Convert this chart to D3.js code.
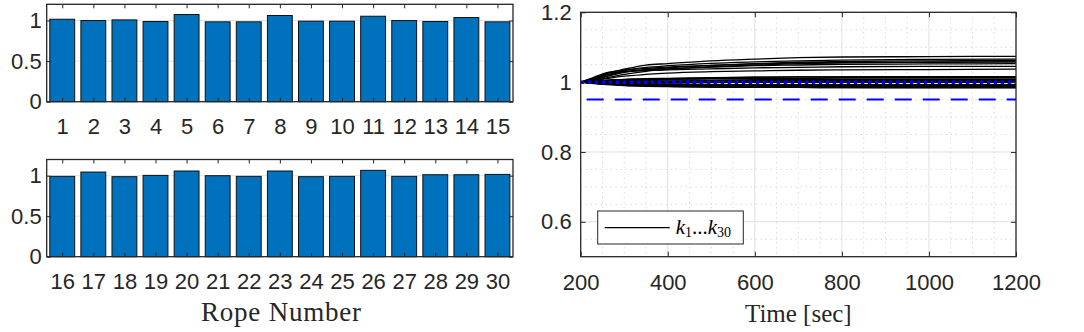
<!DOCTYPE html>
<html>
<head>
<meta charset="utf-8">
<script src="https://cdn.jsdelivr.net/npm/d3@7"></script>
<style>
  body { margin: 0; background: #fff; }
</style>
</head>
<body>
<svg id="chart"></svg>
<script>
// bar values (estimated ratio per rope)
const ropesTop = [1, 2, 3, 4, 5, 6, 7, 8, 9, 10, 11, 12, 13, 14, 15]
const ratiosTop = [1.016, 1.000, 1.008, 0.988, 1.074, 0.984, 0.984, 1.062, 0.992, 0.992, 1.053, 1.000, 0.988, 1.037, 0.984]
const ropesBottom = [16, 17, 18, 19, 20, 21, 22, 23, 24, 25, 26, 27, 28, 29, 30]
const ratiosBottom = [0.992, 1.045, 0.988, 1.004, 1.058, 1.000, 0.992, 1.058, 0.988, 0.992, 1.066, 0.992, 1.012, 1.012, 1.016]
const barYTicks = [0, 0.5, 1]

// time histories k1..k30
const times = [200, 230, 260, 300, 350, 400, 500, 600, 700, 800, 1000, 1200]
const kTraces = [
  [1, 1.002, 1.005, 1.008, 1.010, 1.011, 1.013, 1.014, 1.015, 1.015, 1.016, 1.016],
  [1, 1.001, 1.002, 1.001, 1.000, 1.000, 0.999, 1.000, 1.000, 1.000, 1.000, 1.000],
  [1, 1.001, 1.003, 1.004, 1.005, 1.006, 1.006, 1.007, 1.007, 1.008, 1.008, 1.008],
  [1, 0.998, 0.995, 0.993, 0.992, 0.991, 0.990, 0.989, 0.989, 0.988, 0.988, 0.988],
  [1, 1.010, 1.025, 1.037, 1.049, 1.053, 1.061, 1.066, 1.070, 1.072, 1.073, 1.074],
  [1, 0.997, 0.994, 0.991, 0.989, 0.988, 0.987, 0.986, 0.985, 0.985, 0.984, 0.984],
  [1, 0.998, 0.995, 0.992, 0.990, 0.988, 0.986, 0.985, 0.985, 0.984, 0.984, 0.984],
  [1, 1.006, 1.016, 1.028, 1.036, 1.041, 1.048, 1.053, 1.057, 1.059, 1.061, 1.062],
  [1, 0.999, 0.997, 0.996, 0.995, 0.994, 0.993, 0.993, 0.992, 0.992, 0.992, 0.992],
  [1, 0.998, 0.996, 0.995, 0.994, 0.994, 0.993, 0.993, 0.993, 0.992, 0.992, 0.992],
  [1, 1.008, 1.018, 1.030, 1.035, 1.038, 1.043, 1.047, 1.049, 1.051, 1.052, 1.053],
  [1, 0.999, 0.998, 0.999, 1.000, 1.001, 1.000, 1.000, 1.000, 1.000, 1.000, 1.000],
  [1, 0.997, 0.994, 0.992, 0.991, 0.990, 0.989, 0.989, 0.988, 0.988, 0.988, 0.988],
  [1, 1.004, 1.010, 1.017, 1.022, 1.026, 1.030, 1.032, 1.034, 1.035, 1.036, 1.037],
  [1, 0.996, 0.993, 0.990, 0.988, 0.987, 0.986, 0.985, 0.985, 0.984, 0.984, 0.984],
  [1, 0.998, 0.997, 0.995, 0.994, 0.993, 0.993, 0.992, 0.992, 0.992, 0.992, 0.992],
  [1, 1.012, 1.024, 1.030, 1.033, 1.035, 1.038, 1.041, 1.042, 1.044, 1.045, 1.045],
  [1, 0.998, 0.996, 0.994, 0.992, 0.991, 0.990, 0.989, 0.989, 0.988, 0.988, 0.988],
  [1, 1.001, 1.002, 1.003, 1.003, 1.003, 1.004, 1.004, 1.004, 1.004, 1.004, 1.004],
  [1, 1.014, 1.027, 1.034, 1.039, 1.043, 1.048, 1.052, 1.055, 1.056, 1.057, 1.058],
  [1, 1.000, 1.001, 1.000, 0.999, 0.999, 1.000, 1.000, 1.000, 1.000, 1.000, 1.000],
  [1, 0.999, 0.997, 0.995, 0.994, 0.993, 0.993, 0.992, 0.992, 0.992, 0.992, 0.992],
  [1, 1.005, 1.012, 1.022, 1.031, 1.037, 1.044, 1.049, 1.053, 1.055, 1.057, 1.058],
  [1, 0.997, 0.995, 0.993, 0.991, 0.990, 0.989, 0.989, 0.988, 0.988, 0.988, 0.988],
  [1, 0.998, 0.996, 0.995, 0.994, 0.993, 0.993, 0.992, 0.992, 0.992, 0.992, 0.992],
  [1, 1.009, 1.021, 1.033, 1.042, 1.047, 1.054, 1.058, 1.061, 1.063, 1.065, 1.066],
  [1, 0.999, 0.998, 0.996, 0.995, 0.994, 0.993, 0.993, 0.992, 0.992, 0.992, 0.992],
  [1, 1.003, 1.006, 1.007, 1.008, 1.009, 1.010, 1.011, 1.011, 1.012, 1.012, 1.012],
  [1, 1.002, 1.004, 1.006, 1.008, 1.009, 1.010, 1.011, 1.011, 1.012, 1.012, 1.012],
  [1, 1.002, 1.004, 1.007, 1.009, 1.010, 1.012, 1.014, 1.015, 1.015, 1.016, 1.016]
]
const timeTicks = [200, 400, 600, 800, 1000, 1200]
const kTicks = [0.6, 0.8, 1, 1.2]
const nominalLevel = 1
const limitLevel = 0.95

const axisColor = "#262626"
const barColor = "#0072BD"
const sansFont = "'Liberation Sans', Arial, sans-serif"
const serifFont = "'Liberation Serif', 'Times New Roman', serif"
const plain = d => String(d)

const svg = d3.select("#chart")
  .attr("width", 1084)
  .attr("height", 332)

// style an axis group: no domain, dark ticks, sans labels
function styleAxis(g, fontSize) {
  g.attr("font-family", sansFont).attr("font-size", fontSize)
  g.select(".domain").remove()
  g.selectAll(".tick line").attr("stroke", axisColor).attr("stroke-width", 1)
  g.selectAll(".tick text").attr("fill", axisColor)
}

// one bar panel
function drawBars(ropes, ratios, box) {
  var x = d3.scaleLinear()
    .domain([ropes[0] - 0.5, ropes[ropes.length - 1] + 0.5])
    .range([box.left, box.right])
  var y = d3.scaleLinear()
    .domain([0, 1.2])
    .range([box.bottom, box.top])
  var unit = x(1) - x(0)

  var g = svg.append("g")

  // faint grid
  g.append("g").selectAll("line")
    .data(barYTicks.slice(1))
    .enter().append("line")
    .attr("x1", box.left).attr("x2", box.right)
    .attr("y1", d => y(d)).attr("y2", d => y(d))
    .attr("stroke", "#e3e3e3")

  g.append("g").selectAll("rect")
    .data(ropes)
    .enter().append("rect")
    .attr("x", (d, i) => x(d) - unit * 0.4)
    .attr("width", unit * 0.8)
    .attr("y", (d, i) => y(ratios[i]))
    .attr("height", (d, i) => y(0) - y(ratios[i]))
    .attr("fill", barColor)
    .attr("stroke", "#111")
    .attr("stroke-width", 1)

  // axes
  g.append("g")
    .attr("transform", "translate(0," + box.bottom + ")")
    .call(d3.axisBottom(x).tickValues(ropes).tickFormat(plain).tickSize(-4).tickPadding(17))
    .call(a => styleAxis(a, 22))
  g.append("g")
    .attr("transform", "translate(0," + box.top + ")")
    .call(d3.axisTop(x).tickValues(ropes).tickSize(-4).tickFormat(""))
    .call(a => styleAxis(a, 22))
  g.append("g")
    .attr("transform", "translate(" + box.left + ",0)")
    .call(d3.axisLeft(y).tickValues(barYTicks).tickFormat(plain).tickSize(-4).tickPadding(5))
    .call(a => styleAxis(a, 22))
  g.append("g")
    .attr("transform", "translate(" + box.right + ",0)")
    .call(d3.axisRight(y).tickValues(barYTicks).tickSize(-4).tickFormat(""))
    .call(a => styleAxis(a, 22))

  g.append("rect")
    .attr("x", box.left).attr("y", box.top)
    .attr("width", box.right - box.left).attr("height", box.bottom - box.top)
    .attr("fill", "none")
    .attr("stroke", axisColor)
    .attr("stroke-width", 1.3)
}

drawBars(ropesTop, ratiosTop, {left: 46.7, right: 513, top: 4.3, bottom: 101.7})
drawBars(ropesBottom, ratiosBottom, {left: 46.7, right: 513, top: 159.5, bottom: 256.7})

svg.append("text")
  .text("Rope Number")
  .attr("x", 281)
  .attr("y", 321)
  .attr("text-anchor", "middle")
  .attr("font-family", serifFont)
  .attr("font-size", 27)
  .attr("textLength", 160)
  .attr("fill", axisColor)

// ---- time history panel ----
var box = {left: 580.7, right: 1016, top: 12.3, bottom: 256.7}
var tx = d3.scaleLinear().domain([200, 1200]).range([box.left, box.right])
var ky = d3.scaleLinear().domain([0.5, 1.2]).range([box.bottom, box.top])

var right = svg.append("g")

// minor dotted grid
right.append("g").selectAll("line")
  .data(d3.range(250, 1200, 50).filter(d => d % 200 !== 0))
  .enter().append("line")
  .attr("x1", d => tx(d)).attr("x2", d => tx(d))
  .attr("y1", box.top).attr("y2", box.bottom)
  .attr("stroke", "#bdbdbd").attr("stroke-width", 0.8)
  .attr("stroke-dasharray", "1,4")
right.append("g").selectAll("line")
  .data(d3.range(0.55, 1.2, 0.05).filter(d => Math.abs(d * 5 - Math.round(d * 5)) > 0.01))
  .enter().append("line")
  .attr("x1", box.left).attr("x2", box.right)
  .attr("y1", d => ky(d)).attr("y2", d => ky(d))
  .attr("stroke", "#bdbdbd").attr("stroke-width", 0.8)
  .attr("stroke-dasharray", "1,4")

// major grid
right.append("g").selectAll("line")
  .data(timeTicks.slice(1, -1))
  .enter().append("line")
  .attr("x1", d => tx(d)).attr("x2", d => tx(d))
  .attr("y1", box.top).attr("y2", box.bottom)
  .attr("stroke", "#e0e0e0")
right.append("g").selectAll("line")
  .data(kTicks.slice(0, -1))
  .enter().append("line")
  .attr("x1", box.left).attr("x2", box.right)
  .attr("y1", d => ky(d)).attr("y2", d => ky(d))
  .attr("stroke", "#e0e0e0")

// traces
var line = d3.line()
  .x((d, i) => tx(times[i]))
  .y(d => ky(d))
  .curve(d3.curveMonotoneX)

right.append("g").selectAll("path")
  .data(kTraces)
  .enter().append("path")
  .attr("d", line)
  .attr("fill", "none")
  .attr("stroke", "#000")
  .attr("stroke-width", 1.3)

// reference levels
right.append("line")
  .attr("x1", box.left).attr("x2", box.right)
  .attr("y1", ky(limitLevel)).attr("y2", ky(limitLevel))
  .attr("stroke", "#0000ff").attr("stroke-width", 2)
  .attr("stroke-dasharray", "17,11")
  .attr("stroke-dashoffset", -6)
right.append("line")
  .attr("x1", box.left).attr("x2", box.right)
  .attr("y1", ky(nominalLevel)).attr("y2", ky(nominalLevel))
  .attr("stroke", "#0000ff").attr("stroke-width", 3.5)
  .attr("stroke-dasharray", "3.5,3.5")

// axes
right.append("g")
  .attr("transform", "translate(0," + box.bottom + ")")
  .call(d3.axisBottom(tx).tickValues(timeTicks).tickFormat(plain).tickSize(-5).tickPadding(18))
  .call(a => styleAxis(a, 22))
right.append("g")
  .attr("transform", "translate(0," + box.top + ")")
  .call(d3.axisTop(tx).tickValues(timeTicks).tickSize(-5).tickFormat(""))
  .call(a => styleAxis(a, 22))
right.append("g")
  .attr("transform", "translate(" + box.left + ",0)")
  .call(d3.axisLeft(ky).tickValues(kTicks).tickFormat(plain).tickSize(-5).tickPadding(9))
  .call(a => styleAxis(a, 22))
right.append("g")
  .attr("transform", "translate(" + box.right + ",0)")
  .call(d3.axisRight(ky).tickValues(kTicks).tickSize(-5).tickFormat(""))
  .call(a => styleAxis(a, 22))

right.append("rect")
  .attr("x", box.left).attr("y", box.top)
  .attr("width", box.right - box.left).attr("height", box.bottom - box.top)
  .attr("fill", "none")
  .attr("stroke", axisColor)
  .attr("stroke-width", 1.3)

right.append("text")
  .text("Time [sec]")
  .attr("x", (box.left + box.right) / 2)
  .attr("y", 322)
  .attr("text-anchor", "middle")
  .attr("font-family", serifFont)
  .attr("font-size", 25)
  .attr("fill", axisColor)

// legend
var legend = right.append("g")
  .attr("transform", "translate(" + (box.left + 17) + "," + (box.bottom - 45.7) + ")")
legend.append("rect")
  .attr("width", 145.6).attr("height", 33)
  .attr("fill", "#fff")
  .attr("stroke", axisColor)
  .attr("stroke-width", 1)
legend.append("line")
  .attr("x1", 7).attr("x2", 72)
  .attr("y1", 16.7).attr("y2", 16.7)
  .attr("stroke", "#000").attr("stroke-width", 1.2)
var lt = legend.append("text")
  .attr("x", 78)
  .attr("y", 22.5)
  .attr("font-family", serifFont)
  .attr("font-size", 21)
  .attr("fill", "#000")
lt.append("tspan").attr("font-style", "italic").text("k")
lt.append("tspan").attr("font-size", 14).attr("dy", 3).text("1")
lt.append("tspan").attr("dy", -3).text("...")
lt.append("tspan").attr("font-style", "italic").text("k")
lt.append("tspan").attr("font-size", 14).attr("dy", 3).text("30")
</script>
</body>
</html>
